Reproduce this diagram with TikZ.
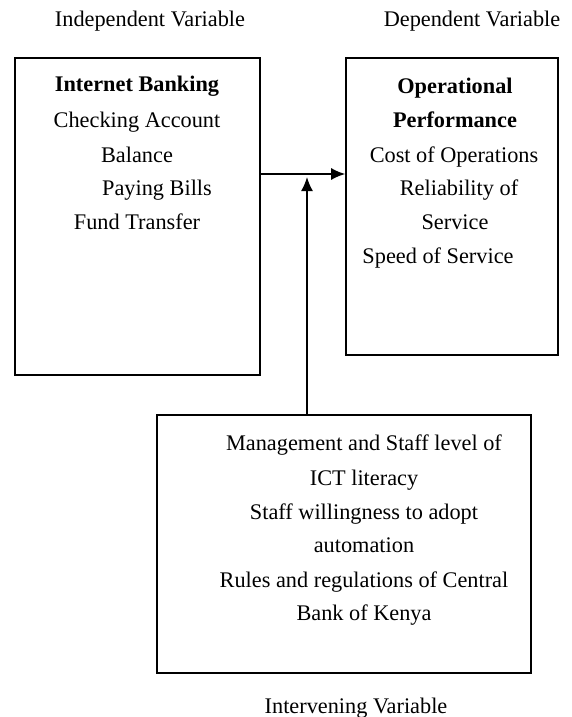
\documentclass[tikz,border=0pt]{standalone}
\usepackage{fontspec}
\setmainfont{Liberation Serif}
\usetikzlibrary{arrows.meta}
\begin{document}
\begin{tikzpicture}[x=1pt,y=-1pt,
  box/.style={draw,line width=1.6pt,inner sep=0pt},
  txt/.style={inner sep=0pt,text height=14pt,text depth=0pt,font=\fontsize{22.3}{26}\selectfont},
  btxt/.style={txt,font=\fontsize{22.3}{26}\selectfont\bfseries},
  arr/.style={line width=1.6pt,-{Latex[length=14pt,width=12pt]}}]
\useasboundingbox (0,0) rectangle (571,717);
% titles
\node[txt] (tind) at (150,20) {Independent Variable};
\node[txt] (tdep) at (472,20) {Dependent Variable};
\node[txt] (tint) at (356,706) {Intervening Variable};
% boxes
\node[box,minimum width=245pt,minimum height=317pt] (ib) at (137.5,216.5) {};
\node[box,minimum width=212pt,minimum height=297pt] (op) at (452,206.5) {};
\node[box,minimum width=374pt,minimum height=258pt] (iv) at (344,544) {};
% left box text
\node[btxt] (l1) at (137,85) {Internet Banking};
\node[txt] (l2) at (137,120) {Checking Account};
\node[txt] (l3) at (137,155) {Balance};
\node[txt] (l4) at (157,188) {Paying Bills};
\node[txt] (l5) at (137,222) {Fund Transfer};
% right box text
\node[btxt] (r1) at (455,86) {Operational};
\node[btxt] (r2) at (455,120) {Performance};
\node[txt] (r3) at (454,155) {Cost of Operations};
\node[txt] (r4) at (459,188) {Reliability of};
\node[txt] (r5) at (455,222) {Service};
\node[txt] (r6) at (438,256) {Speed of Service};
% bottom box text
\node[txt] (b1) at (364,443) {Management and Staff level of};
\node[txt] (b2) at (364,478) {ICT literacy};
\node[txt] (b3) at (364,512) {Staff willingness to adopt};
\node[txt] (b4) at (364,545) {automation};
\node[txt] (b5) at (364,580) {Rules and regulations of Central};
\node[txt] (b6) at (364,613) {Bank of Kenya};
% connectors
\coordinate (hy) at (0,174);
\coordinate (vx) at (307,0);
\coordinate (vtip) at (307,177);
\draw[arr] (ib.east |- hy) -- (op.west |- hy);
\draw[arr] (iv.north -| vx) -- (vtip);
\end{tikzpicture}
\end{document}
